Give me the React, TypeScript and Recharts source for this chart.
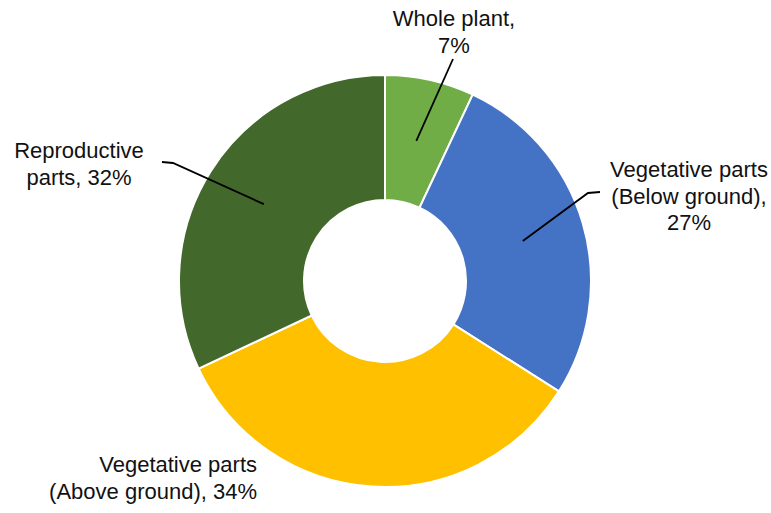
import { Pie, PieChart } from "recharts";

const names = [
  "Whole plant",
  "Vegetative parts (Below ground)",
  "Vegetative parts (Above ground)",
  "Reproductive parts",
];
const values = [7, 27, 34, 32];
const colors = ["#70AD47", "#4472C4", "#FFC000", "#43682B"];

// how each label breaks into lines
const labelLines: ((v: number) => string[])[] = [
  (v) => ["Whole plant,", `${v}%`],
  (v) => ["Vegetative parts", "(Below ground),", `${v}%`],
  (v) => ["Vegetative parts", `(Above ground), ${v}%`],
  (v) => ["Reproductive", `parts, ${v}%`],
];

// label placement (first baseline) and leader elbows
const labelLayout = [
  { x: 454, y: 26, anchor: "middle", leader: [[453, 59]] },
  { x: 689, y: 177, anchor: "middle", leader: [[588, 193], [600, 192]] },
  { x: 257, y: 472, anchor: "end", leader: [] },
  { x: 79, y: 158, anchor: "middle", leader: [[173, 163], [162, 162]] },
];

const data = names.map((name, i) => ({ name, value: values[i], fill: colors[i] }));

const RADIAN = Math.PI / 180;
const LINE_H = 26.5;

function renderLabel(props: any) {
  const { cx, cy, midAngle, innerRadius, outerRadius, index } = props;
  const r = (innerRadius + outerRadius) / 2;
  const sx = cx + r * Math.cos(-midAngle * RADIAN);
  const sy = cy + r * Math.sin(-midAngle * RADIAN);
  const lay = labelLayout[index];
  const lines = labelLines[index](values[index]);
  const pts = [[sx, sy], ...lay.leader];
  return (
    <g key={`lbl-${index}`}>
      {lay.leader.length > 0 && (
        <polyline
          points={pts.map((p) => p.join(",")).join(" ")}
          fill="none"
          stroke="#000"
          strokeWidth={1.8}
        />
      )}
      <text
        x={lay.x}
        y={lay.y}
        textAnchor={lay.anchor as any}
        fontFamily="'Liberation Sans', Arial, sans-serif"
        fontSize={22}
        fill="#111"
      >
        {lines.map((ln, i) => (
          <tspan key={i} x={lay.x} y={lay.y + i * LINE_H}>
            {ln}
          </tspan>
        ))}
      </text>
    </g>
  );
}

export default function App() {
  return (
    <div style={{ position: "absolute", left: 0, top: 0, background: "#fff" }}>
      <PieChart width={771} height={513} margin={{ top: 0, right: 0, bottom: 0, left: 0 }}>
        <Pie
          data={data}
          dataKey="value"
          nameKey="name"
          cx={385}
          cy={281}
          innerRadius={81}
          outerRadius={206}
          startAngle={90}
          endAngle={-270}
          stroke="#fff"
          strokeWidth={2}
          label={renderLabel}
          labelLine={false}
          isAnimationActive={false}
        />
      </PieChart>
    </div>
  );
}
